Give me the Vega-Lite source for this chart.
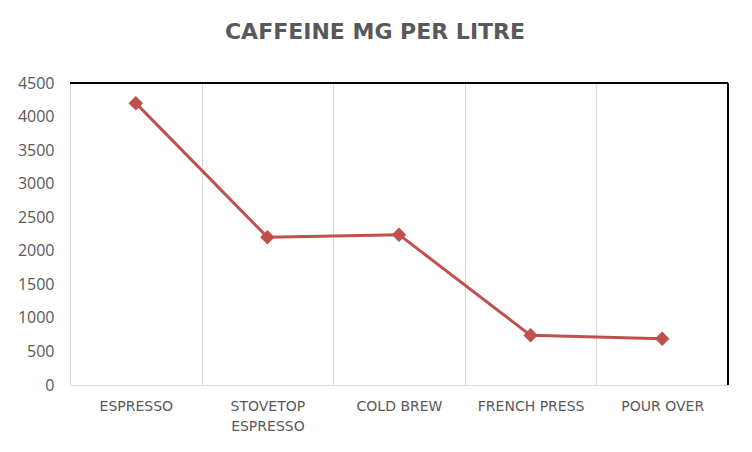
{
  "$schema": "https://vega.github.io/schema/vega-lite/v6.json",
  "width": 658,
  "height": 302,
  "autosize": {"type": "none"},
  "padding": {"left": 70, "top": 83, "right": 24, "bottom": 67},
  "background": "white",
  "title": {
    "text": "CAFFEINE  MG PER LITRE",
    "font": "DejaVu Sans",
    "fontSize": 22,
    "fontWeight": "bold",
    "color": "#595959",
    "anchor": "middle",
    "frame": "group",
    "dx": -24,
    "baseline": "alphabetic",
    "offset": 14
  },
  "config": {
    "view": {"stroke": null},
    "axis": {"labelFont": "Open Sans", "labelColor": "#595959"}
  },
  "data": {
    "values": [
      {"method": "ESPRESSO", "caffeine": 4200},
      {"method": "STOVETOP ESPRESSO", "caffeine": 2200},
      {"method": "COLD BREW", "caffeine": 2240},
      {"method": "FRENCH PRESS", "caffeine": 740},
      {"method": "POUR OVER", "caffeine": 690}
    ]
  },
  "layer": [
    {
      "mark": {"type": "line", "color": "#C0504D", "strokeWidth": 3, "point": {"shape": "diamond", "size": 210, "filled": true, "color": "#C0504D", "opacity": 1}},
      "encoding": {
        "x": {
          "field": "method",
          "type": "nominal",
          "sort": null,
          "scale": {"paddingInner": 0, "paddingOuter": 0},
          "axis": {
            "title": null,
            "labelAngle": 0,
            "labelFont": "DejaVu Sans",
            "labelFontSize": 14,
            "labelPadding": 14,
            "labelLimit": 0,
            "labelOverlap": false,
            "labelLineHeight": 20,
            "labelExpr": "datum.label == 'STOVETOP ESPRESSO' ? ['STOVETOP', 'ESPRESSO'] : datum.label",
            "ticks": false,
            "tickBand": "extent",
            "grid": true,
            "gridColor": "#d9d9d9",
            "gridWidth": 1,
            "domainColor": "#d9d9d9",
            "domainWidth": 1
          }
        },
        "y": {
          "field": "caffeine",
          "type": "quantitative",
          "scale": {"domain": [0, 4500], "nice": false},
          "axis": {
            "title": null,
            "values": [0, 500, 1000, 1500, 2000, 2500, 3000, 3500, 4000, 4500],
            "tickCount": 10,
            "format": "d",
            "labelOverlap": false,
            "labelFlush": false,
            "grid": false,
            "ticks": false,
            "domain": false,
            "labelFontSize": 16,
            "labelPadding": 16
          }
        }
      }
    },
    {
      "mark": {"type": "rule", "color": "#000000", "strokeWidth": 1.3},
      "encoding": {
        "y": {
          "datum": 4500,
          "type": "quantitative",
          "axis": {
            "title": null,
            "values": [0, 500, 1000, 1500, 2000, 2500, 3000, 3500, 4000, 4500],
            "tickCount": 10,
            "format": "d",
            "labelOverlap": false,
            "labelFlush": false,
            "grid": false,
            "ticks": false,
            "domain": false,
            "labelFontSize": 16,
            "labelPadding": 16
          }
        }
      }
    },
    {
      "mark": {"type": "rule", "color": "#000000", "strokeWidth": 1.3},
      "encoding": {"x": {"datum": "POUR OVER", "type": "nominal", "bandPosition": 1}}
    }
  ]
}
